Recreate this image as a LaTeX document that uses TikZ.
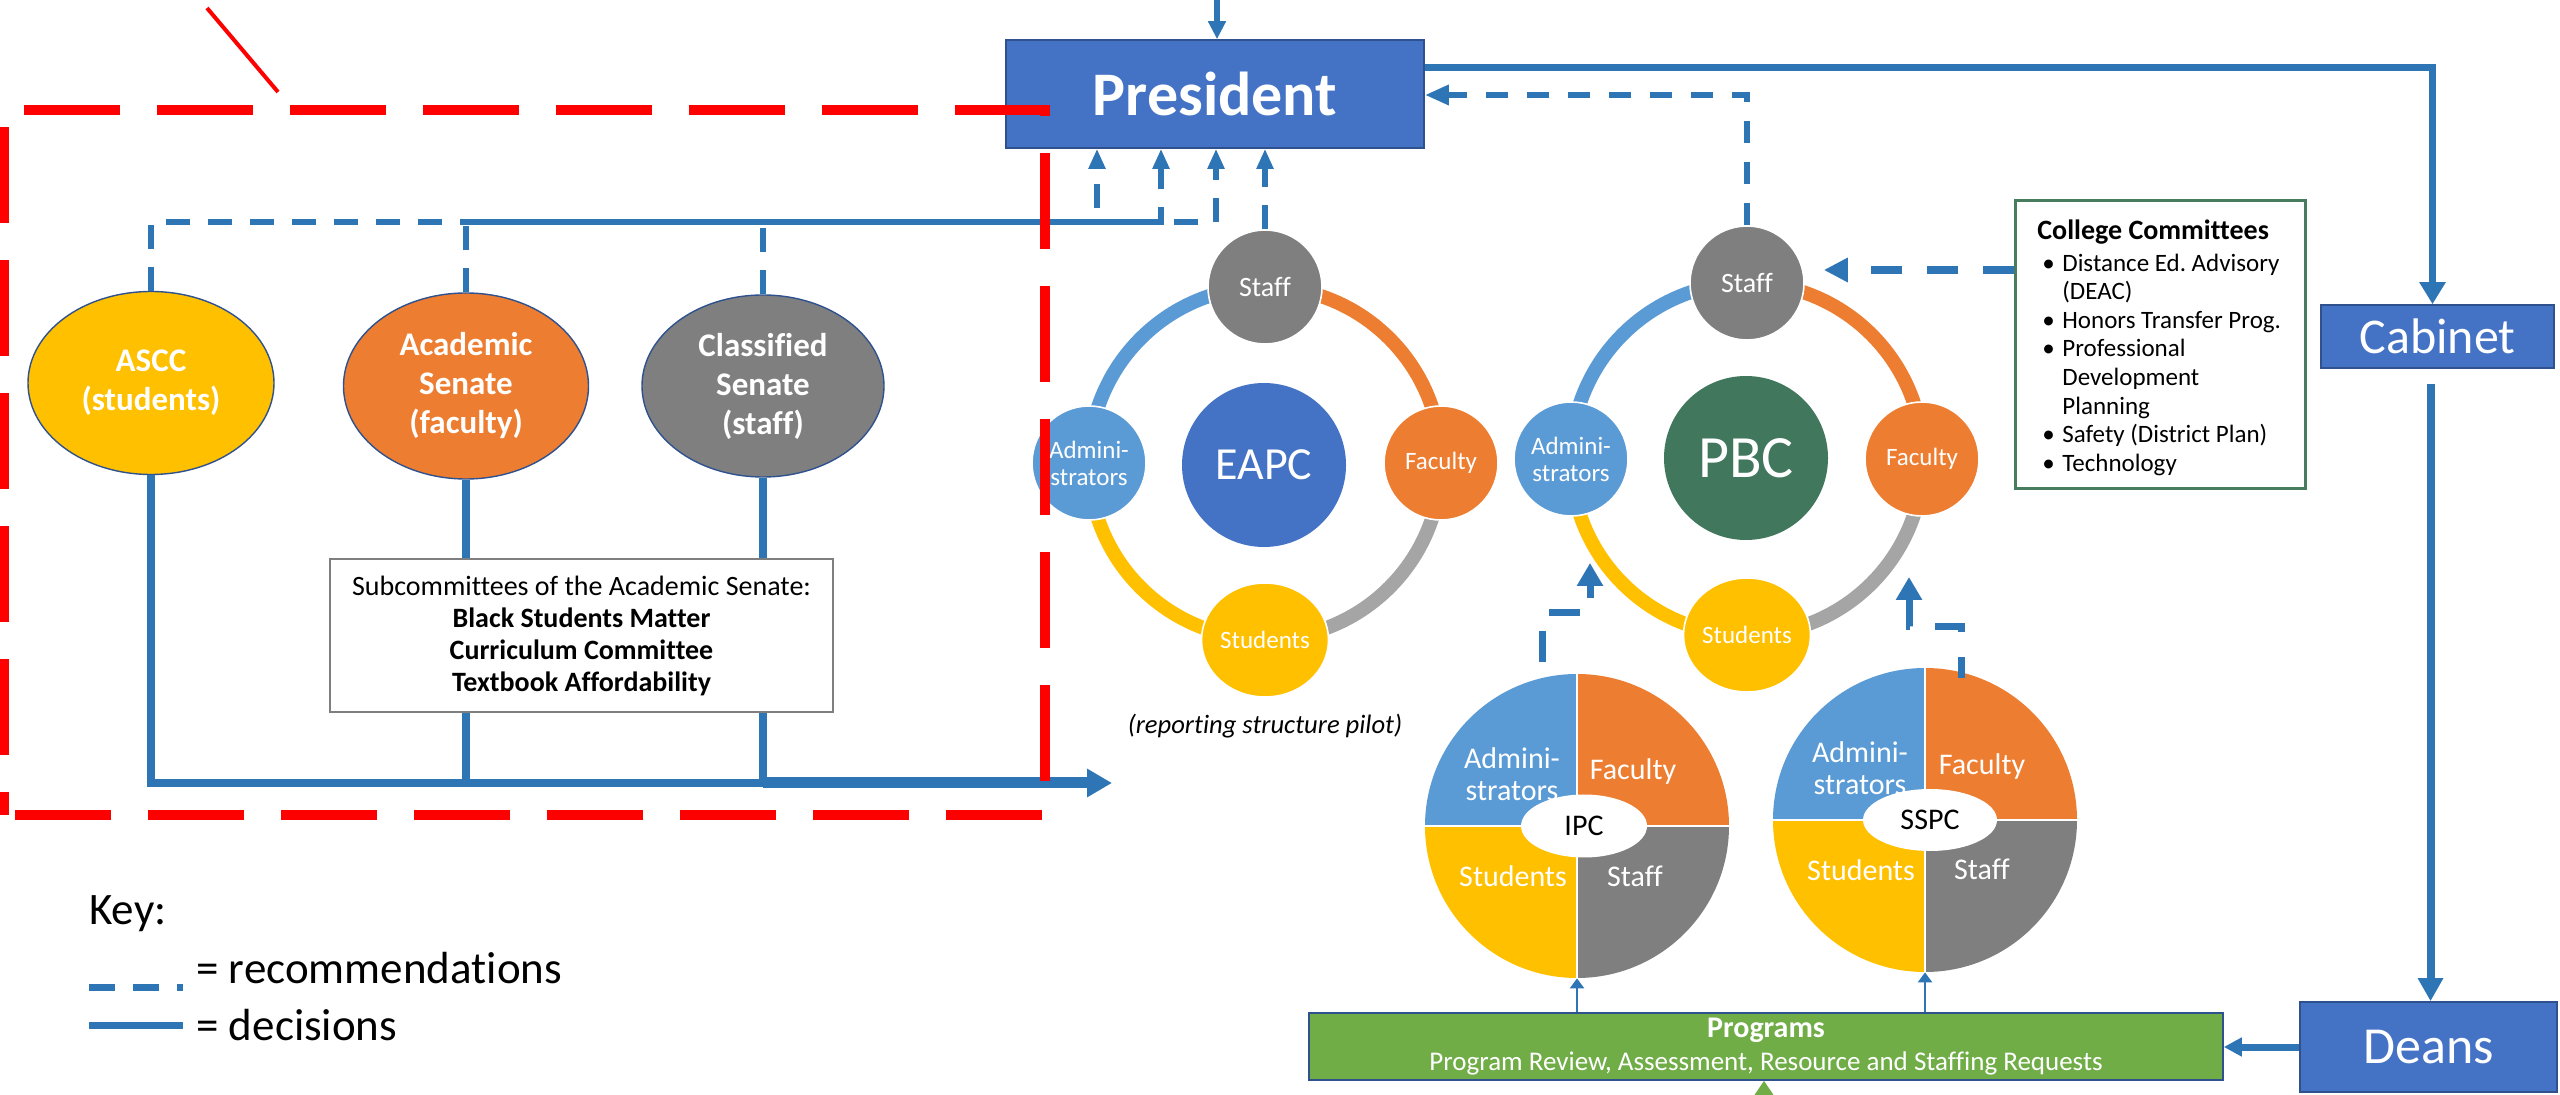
\documentclass[tikz,border=0pt]{standalone}
\usepackage{fontspec}
\setmainfont[Ligatures=NoCommon]{Carlito}
\usetikzlibrary{arrows.meta,shapes.geometric}
\frenchspacing
\definecolor{lnblue}{HTML}{2E75B6}
\definecolor{boxblue}{HTML}{4472C4}
\definecolor{boxedge}{HTML}{2F528F}
\definecolor{cgold}{HTML}{FFC000}
\definecolor{corange}{HTML}{ED7D31}
\definecolor{cgray}{HTML}{7F7F7F}
\definecolor{clgray}{HTML}{A5A5A5}
\definecolor{clblue}{HTML}{5B9BD5}
\definecolor{cgreen}{HTML}{41775C}
\definecolor{pgreen}{HTML}{70AD47}
\definecolor{ccgreen}{HTML}{477D5E}
\newcommand\setfs[2]{\fontsize{#1}{#2}\selectfont}
\newcommand\ccbul{\hspace*{2.5pt}\makebox[10pt][l]{\textbullet}}
\newcommand\ccind{\hspace*{12.5pt}}
\begin{document}
\begin{tikzpicture}[x=0.5pt,y=-0.5pt,
  bluebox/.style={rectangle, fill=boxblue, draw=boxedge, line width=0.8pt, text=white, inner sep=0pt},
  senate/.style={ellipse, draw=boxedge, line width=0.7pt, text=white, align=center, inner sep=0pt, font=\setfs{16.5}{19.5}\bfseries},
  member/.style={circle, draw=white, line width=0.8pt, inner sep=0pt, minimum size=57pt, text=white, align=center, font=\setfs{12.5}{13.5}},
  hub/.style={circle, inner sep=0pt, minimum size=82pt, text=white},
  ringarc/.style={line width=7pt},
  pielbl/.style={text=white, align=center, font=\setfs{15}{16}, inner sep=0pt},
  dec/.style={draw=lnblue, line width=4pt},
  rec/.style={draw=lnblue, line width=3pt, dash pattern=on 12pt off 9pt},
  recbig/.style={draw=lnblue, line width=3.5pt, dash pattern=on 15.5pt off 12.5pt},
  keytxt/.style={font=\setfs{22.5}{25}, inner sep=0pt}
]
\useasboundingbox (0,0) rectangle (2560,1095);
\fill[white] (0,0) rectangle (2560,1095);

% ---- rings
\coordinate (ec) at (1265,463);
\coordinate (pc) at (1747,459);
\foreach \c in {ec,pc}{
  \draw[ringarc, clblue] ([xshift=-88pt]\c) arc[start angle=180,end angle=270,radius=176];
  \draw[ringarc, corange] ([yshift=88pt]\c) arc[start angle=270,end angle=360,radius=176];
  \draw[ringarc, clgray] ([xshift=88pt]\c) arc[start angle=0,end angle=90,radius=176];
  \draw[ringarc, cgold] ([yshift=-88pt]\c) arc[start angle=90,end angle=180,radius=176];
}

% ---- EAPC members
\node[member, fill=cgray, font=\setfs{14}{15}] (eapcstaff) at (1265,287) {Staff};
\node[member, fill=clblue] (eapcadm) at (1089,463) {Admini-\\strators};
\node[member, fill=corange] (eapcfac) at (1441,463) {Faculty};
\node[member, ellipse, fill=cgold, minimum width=63.5pt, minimum height=57pt] (eapcstu) at (1265,640) {Students};
\node[hub, fill=boxblue, font=\setfs{23}{25}] (eapc) at (1264,465) {EAPC};

% ---- PBC members
\node[member, fill=cgray, font=\setfs{14}{15}] (pbcstaff) at (1747,283) {Staff};
\node[member, fill=clblue] (pbcadm) at (1571,459) {Admini-\\strators};
\node[member, fill=corange] (pbcfac) at (1922,459) {Faculty};
\node[member, ellipse, fill=cgold, minimum width=63.5pt, minimum height=57pt] (pbcstu) at (1747,635) {Students};
\node[hub, fill=cgreen, font=\setfs{30}{32}] (pbc) at (1746,458) {PBC};

% ---- pies
\coordinate (ipcc) at (1577,826);
\coordinate (sspcc) at (1925,820);
\foreach \c in {ipcc,sspcc}{
  \fill[clblue] (\c) -- ([xshift=-76pt]\c) arc[start angle=180,end angle=270,radius=152] -- cycle;
  \fill[corange] (\c) -- ([yshift=76pt]\c) arc[start angle=270,end angle=360,radius=152] -- cycle;
  \fill[cgray] (\c) -- ([xshift=76pt]\c) arc[start angle=0,end angle=90,radius=152] -- cycle;
  \fill[cgold] (\c) -- ([yshift=-76pt]\c) arc[start angle=90,end angle=180,radius=152] -- cycle;
  \draw[white, line width=1.3pt] ([xshift=-77pt]\c) -- ([xshift=77pt]\c);
  \draw[white, line width=1.3pt] ([yshift=-77pt]\c) -- ([yshift=77pt]\c);
}
\node[circle, minimum size=152pt, inner sep=0pt] (ipcpie) at (ipcc) {};
\node[circle, minimum size=152pt, inner sep=0pt] (sspcpie) at (sspcc) {};
\node[pielbl] (ipcadm) at (1512,774) {Admini-\\strators};
\node[pielbl] (ipcfac) at (1633,772) {Faculty};
\node[pielbl] (ipcstu) at (1513,876) {Students};
\node[pielbl] (ipcsta) at (1635,876) {Staff};
\node[ellipse, fill=white, minimum width=63pt, minimum height=31.5pt, inner sep=0pt, font=\setfs{15}{16}] (ipc) at (1584,826) {IPC};
\node[pielbl] (sspcadm) at (1860,768) {Admini-\\strators};
\node[pielbl] (sspcfac) at (1982,767) {Faculty};
\node[pielbl] (sspcstu) at (1861,870) {Students};
\node[pielbl] (sspcsta) at (1982,869) {Staff};
\node[ellipse, fill=white, minimum width=67pt, minimum height=31pt, inner sep=0pt, font=\setfs{15}{16}] (sspc) at (1930,820) {SSPC};

\node[font=\setfs{13.3}{15}\itshape, inner sep=0pt] (pilot) at (1265,726) {(reporting structure pilot)};

% ---- senates
\node[senate, fill=cgold, minimum width=123pt, minimum height=91.5pt] (ascc) at (151,383) {ASCC\\(students)};
\node[senate, fill=corange, minimum width=122.5pt, minimum height=93pt] (academic) at (466,386) {Academic\\Senate\\(faculty)};
\node[senate, fill=cgray, minimum width=121pt, minimum height=91pt] (classified) at (763,386) {Classified\\Senate\\(staff)};

% ---- boxes
\node[bluebox, minimum width=209pt, minimum height=54pt, font=\setfs{31}{34}\bfseries] (president) at (1215,94) {President};
\node[bluebox, minimum width=116.5pt, minimum height=31.5pt, font=\setfs{25}{28}] (cabinet) at (2437.5,336.5) {Cabinet};
\node[bluebox, minimum width=128.5pt, minimum height=45pt, font=\setfs{26}{28}] (deans) at (2428.5,1047) {Deans};
\node[fill=pgreen, draw=boxedge, line width=0.8pt, minimum width=457pt, minimum height=33.5pt, inner sep=0pt, text=white, align=center, font=\setfs{13.5}{16.5}] (programs) at (1766,1046.5) {{\bfseries\setfs{15}{16.5}Programs}\\Program Review, Assessment, Resource and Staffing Requests};

% decisions from senates (under the subcommittee box)
\coordinate (dend) at (1112,783);
\draw[dec] (ascc.south) |- (classified.south |- dend);
\draw[dec] (academic.south) -- (academic.south |- dend);
\draw[dec] (classified.south) -- (classified.south |- dend);
\draw[dec, line width=5.5pt, -{Triangle[length=12.5pt,width=13.5pt]}] (classified.south |- dend) -- (dend);

\node[draw=cgray, line width=1pt, fill=white, minimum width=251.5pt, minimum height=76.5pt, inner sep=0pt, align=center, font=\setfs{14}{16}] (subc) at (581.5,635.5) {Subcommittees of the Academic Senate:\\\textbf{Black Students Matter}\\\textbf{Curriculum Committee}\\\textbf{Textbook Affordability}};

\node[draw=ccgreen, line width=1.5pt, fill=white, minimum width=145pt, minimum height=144pt, inner sep=0pt] (ccbox) at (2160,345) {};
\node[anchor=north west, inner sep=0pt, align=left, font=\setfs{12.5}{14.3}] (cctext) at (2037,219) {{\bfseries\setfs{14}{16}College Committees}\\[1.7pt]
\ccbul Distance Ed. Advisory\\
\ccind (DEAC)\\
\ccbul Honors Transfer Prog.\\
\ccbul Professional\\
\ccind Development\\
\ccind Planning\\
\ccbul Safety (District Plan)\\
\ccbul Technology};

% ---- connectors
\coordinate (topin) at (1217,0);
\draw[dec, line width=3pt, -{Triangle[length=9pt,width=8.5pt]}] (topin) -- (topin |- president.north);
\draw[dec, line width=3.5pt, -{Triangle[length=11pt,width=12.5pt]}] ([yshift=13pt]president.east) -| ([xshift=-2.5pt]cabinet.north);
\draw[dec, -{Triangle[length=11.5pt,width=12pt]}, shorten <=7.5pt] ([xshift=-3.5pt]cabinet.south) -- ([xshift=-3.5pt]cabinet.south |- deans.north);
\draw[dec, line width=3.5pt, -{Triangle[length=9pt,width=9pt]}] (deans.west) -- (deans.west -| programs.east);

\coordinate (r1) at (1216,222);
\coordinate (r2) at (1161,222);
\coordinate (r3) at (1097,222);
\draw[rec, -{Triangle[length=10pt,width=8pt]}] (ascc.north) |- (r1) -- (r1 |- president.south);
\draw[rec, -{Triangle[length=10pt,width=8pt]}] (academic.north) |- (r2) -- (r2 |- president.south);
\draw[rec, -{Triangle[length=10pt,width=8pt]}] (classified.north) |- (r3) -- (r3 |- president.south);
\draw[rec, -{Triangle[length=10pt,width=8pt]}] (eapcstaff.north) -- (eapcstaff.north |- president.south);
\draw[rec, dash pattern=on 11pt off 9.5pt, -{Triangle[length=12pt,width=9.5pt]}] (pbcstaff.north) |- ([yshift=-0.5pt]president.east);
\draw[draw=lnblue, line width=4pt, dash pattern=on 15.5pt off 12.5pt, -{Triangle[length=12pt,width=11.5pt]}, shorten >=9.5pt] ([yshift=37.5pt]ccbox.west) -- ([yshift=37.5pt]ccbox.west -| pbcstaff.east);

\coordinate (ipcout) at (1542,676);
\coordinate (k1) at (1590,613);
\coordinate (k1t) at (1590,563);
\coordinate (sspcout) at (1961,678);
\coordinate (k2) at (1909,627);
\coordinate (k2t) at (1909,577);
\draw[recbig, dash phase=21pt, -{Triangle[length=11.5pt,width=12.5pt]}] (ipcout) |- (k1) -- (k1t);
\draw[recbig, dash phase=5pt, -{Triangle[length=11.5pt,width=12.5pt]}] (sspcout) |- (k2) -- (k2t);

\draw[lnblue, line width=1.2pt, -{Triangle[length=5pt,width=7pt]}] (programs.north -| ipcpie) -- (ipcpie.south);
\draw[lnblue, line width=1.2pt, -{Triangle[length=5pt,width=7pt]}] (programs.north -| sspcpie) -- (sspcpie.south);
\coordinate (gin) at (1764,1095);
\draw[pgreen, line width=1.5pt, -{Triangle[length=7pt,width=9pt]}] (gin) -- (gin |- programs.south);

% ---- key
\node[keytxt, anchor=base west] (keyhead) at (89,924) {Key:};
\node[keytxt, anchor=base west] (keyrec) at (196,983) {= recommendations};
\node[keytxt, anchor=base west] (keydec) at (196,1040) {= decisions};
\coordinate (kr1) at (89,987);
\coordinate (kr2) at (183,987);
\coordinate (kd1) at (89,1025);
\coordinate (kd2) at (183,1025);
\draw[lnblue, line width=3.5pt, dash pattern=on 13pt off 9pt] (kr1) -- (kr2);
\draw[lnblue, line width=3.5pt] (kd1) -- (kd2);

% ---- red outline
\draw[red, line width=5pt, dash pattern=on 48pt off 18.5pt, dash phase=36.5pt] (4,815) -- (4,110) -- (1045,110) -- (1045,815) -- cycle;
\draw[red, line width=2pt] (207,8) -- (278,92);
\end{tikzpicture}
\end{document}
